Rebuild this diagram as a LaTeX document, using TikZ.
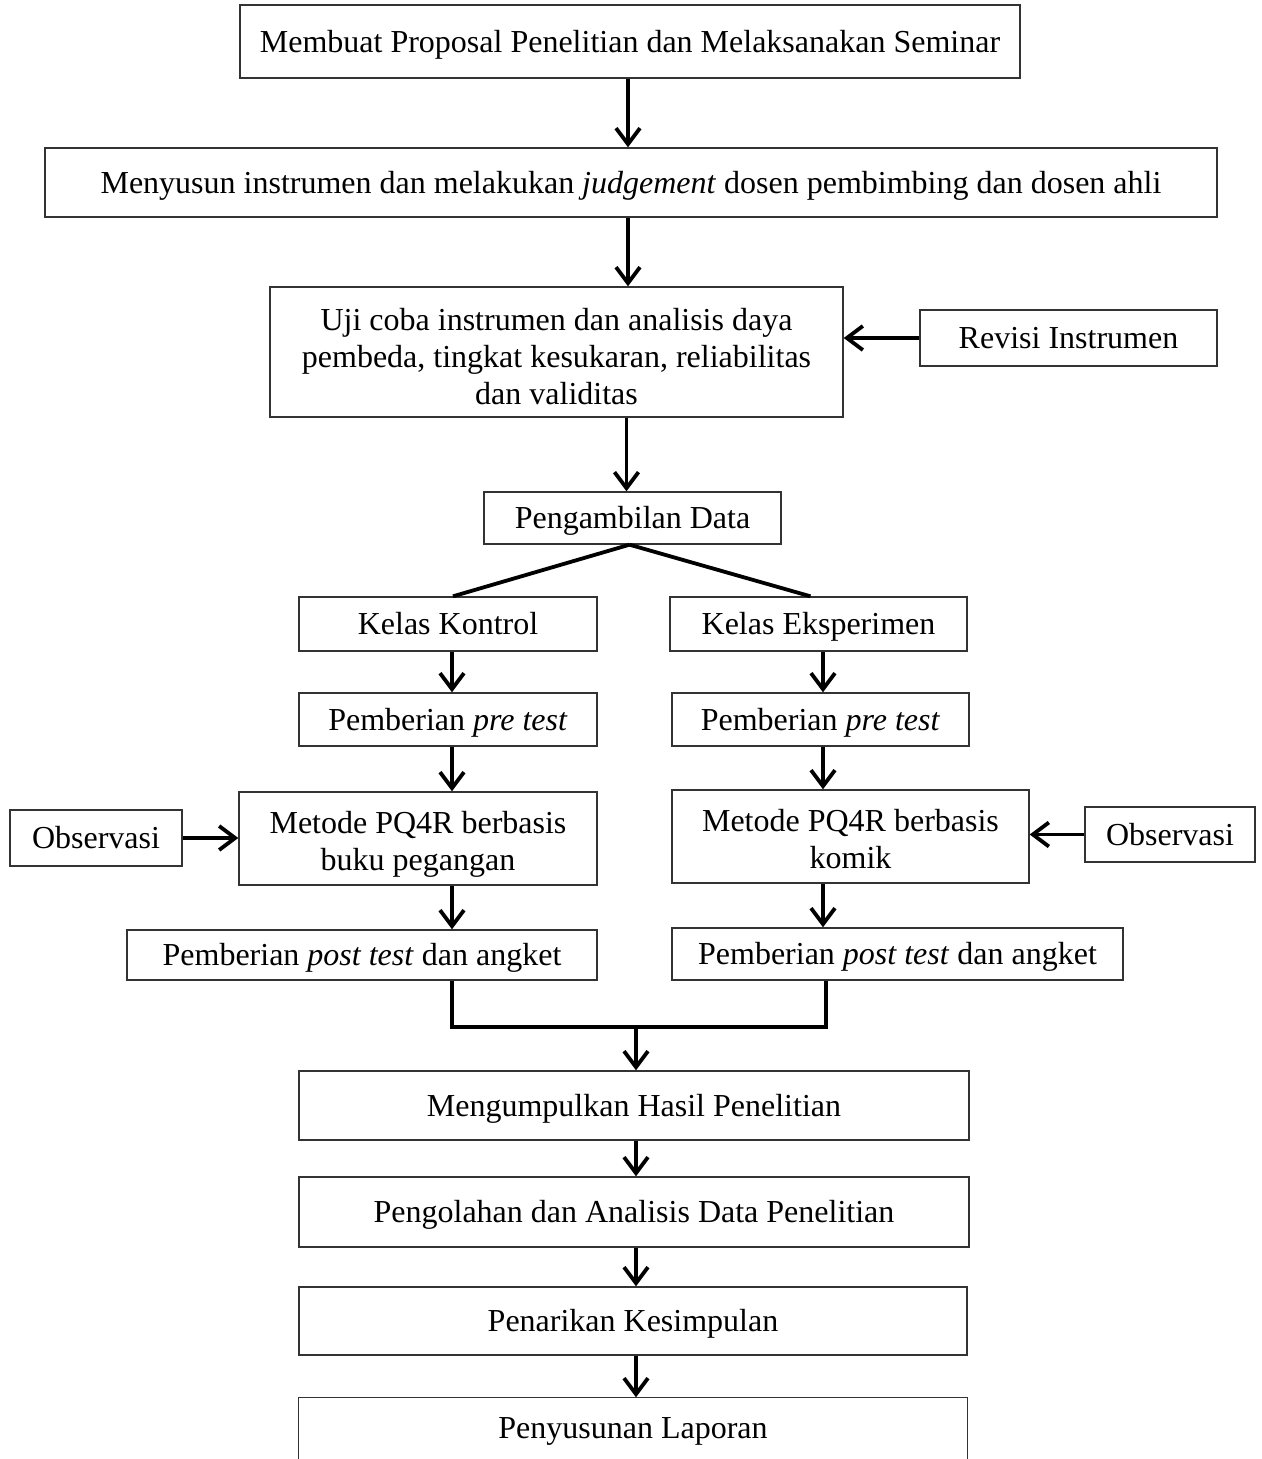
\documentclass[tikz,border=0pt]{standalone}
\usepackage{fontspec}
\setmainfont{Liberation Serif}
\usetikzlibrary{arrows.meta,calc}
\newcommand{\mlines}[1]{\begin{tabular}{@{}c@{}}#1\end{tabular}}
\begin{document}
\begin{tikzpicture}[x=1pt,y=1pt,
  box/.style={draw=black!80, line width=1.4pt, inner sep=0pt, align=center,
    font=\fontsize{32}{37}\selectfont},
  one/.style={box, text height=25pt, text depth=4pt},
  arr/.style={line width=3.8pt, -{Straight Barb[length=16pt,width=24pt]}},
  ln/.style={line width=3.8pt}]
\useasboundingbox (0,0) rectangle (1261,-1459);
\fill[white] (0,0) rectangle (1261,-1459);
\node[one, minimum width=780, minimum height=73] (m1) at (630,-41.5) {Membuat Proposal Penelitian dan Melaksanakan Seminar};
\node[one, minimum width=1172, minimum height=69] (m2) at (631,-182.5) {Menyusun instrumen dan melakukan \textit{judgement} dosen pembimbing dan dosen ahli};
\node[box, minimum width=573, minimum height=130, text height=70pt, text depth=42pt] (uji) at (556.5,-352) {\mlines{Uji coba instrumen dan analisis daya\\pembeda, tingkat kesukaran, reliabilitas\\dan validitas}};
\node[one, minimum width=297, minimum height=56] (rev) at (1068.5,-338) {Revisi Instrumen};
\node[one, minimum width=297, minimum height=52] (amb) at (632.5,-518) {Pengambilan Data};
\node[one, minimum width=298, minimum height=54] (kk) at (448,-624) {Kelas Kontrol};
\node[one, minimum width=297, minimum height=54] (ke) at (818.5,-624) {Kelas Eksperimen};
\node[one, minimum width=298, minimum height=53] (preL) at (448,-719.5) {Pemberian \textit{pre test}};
\node[one, minimum width=297, minimum height=53] (preR) at (820.5,-719.5) {Pemberian \textit{pre test}};
\node[box, minimum width=358, minimum height=93, text height=50pt, text depth=26pt] (metL) at (418,-838.5) {\mlines{Metode PQ4R berbasis\\buku pegangan}};
\node[box, minimum width=357, minimum height=93, text height=50pt, text depth=26pt] (metR) at (850.5,-836.5) {\mlines{Metode PQ4R berbasis\\komik}};
\node[one, minimum width=172, minimum height=56] (obsL) at (96,-838) {Observasi};
\node[one, minimum width=170, minimum height=55] (obsR) at (1170,-834.5) {Observasi};
\node[one, minimum width=470, minimum height=50] (postL) at (362,-955) {Pemberian \textit{post test} dan angket};
\node[one, minimum width=451, minimum height=52] (postR) at (897.5,-954) {Pemberian \textit{post test} dan angket};
\node[one, minimum width=670, minimum height=69] (kum) at (634,-1105.5) {Mengumpulkan Hasil Penelitian};
\node[one, minimum width=670, minimum height=70] (olah) at (634,-1212) {Pengolahan dan Analisis Data Penelitian};
\node[one, minimum width=668, minimum height=68] (tarik) at (633,-1321) {Penarikan Kesimpulan};
\node[one, draw=none, minimum width=668, minimum height=60] (susun) at (633,-1428) {Penyusunan Laporan};
\draw[draw=black!80, line width=1.4pt] ($(susun.south west)+(0,-30)$) -- (susun.north west) -- (susun.north east) -- ($(susun.south east)+(0,-30)$);
\coordinate (cl) at (452,0);
\coordinate (cr) at (823,0);
\coordinate (cr2) at (826,0);
\coordinate (mj) at (636,-1027);
\draw[arr] ([xshift=-2]m1.south) -- ([xshift=-2]m1.south |- m2.north);
\draw[arr] ([xshift=-3]m2.south) -- ([xshift=-3]m2.south |- uji.north);
\draw[arr] ([xshift=-6]amb.north |- uji.south) -- ([xshift=-6]amb.north);
\draw[arr] (rev.west) -- (uji.east |- rev.west);
\draw[ln] ([xshift=-3]amb.south) -- ([xshift=5]kk.north);
\draw[ln] ([xshift=-3]amb.south) -- ([xshift=-8]ke.north);
\draw[arr] (cl |- kk.south) -- (cl |- preL.north);
\draw[arr] (cr |- ke.south) -- (cr |- preR.north);
\draw[arr] (cl |- preL.south) -- (cl |- metL.north);
\draw[arr] (cr |- preR.south) -- (cr |- metR.north);
\draw[arr] (obsL.east) -- (metL.west |- obsL.east);
\draw[arr] (obsR.west) -- (metR.east |- obsR.west);
\draw[arr] (cl |- metL.south) -- (cl |- postL.north);
\draw[arr] (cr |- metR.south) -- (cr |- postR.north);
\draw[ln] (cl |- postL.south) |- (mj) -| (cr2 |- postR.south);
\draw[arr] (mj) -- (mj |- kum.north);
\draw[arr] (mj |- kum.south) -- (mj |- olah.north);
\draw[arr] (mj |- olah.south) -- (mj |- tarik.north);
\draw[arr] (mj |- tarik.south) -- (mj |- susun.north);
\end{tikzpicture}
\end{document}
